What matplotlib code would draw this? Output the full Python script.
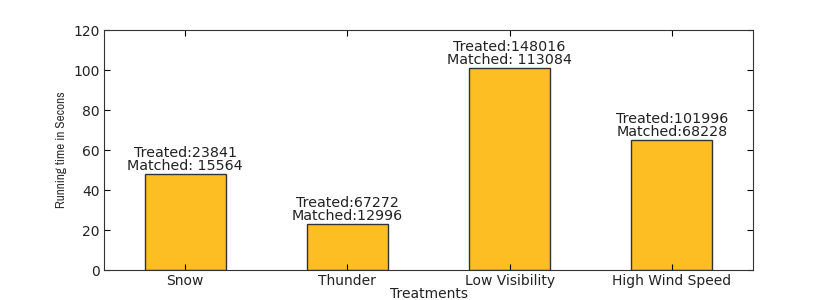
import matplotlib
matplotlib.use("Agg")
import matplotlib.pyplot as plt

categories = ["Snow", "Thunder", "Low Visibility", "High Wind Speed"]
running_time = [48, 23, 101, 65]
treated = [23841, 67272, 148016, 101996]
matched = ["Matched: 15564", "Matched:12996", "Matched: 113084", "Matched:68228"]

fig = plt.figure(figsize=(8.3, 3.0), dpi=100)
ax = fig.add_axes([104/830, 30/300, (753-104)/830, 240/300])
x = list(range(len(categories)))
ax.bar(x, running_time, width=0.5, color="#FDBE24", edgecolor="#333333", linewidth=1.0)
ax.set_xlim(-0.5, 3.5)
ax.set_ylim(0, 120)
ax.set_xticks(x)
ax.set_xticklabels(categories, family="DejaVu Sans")
ax.set_yticks(range(0, 121, 20))
ax.tick_params(axis="both", direction="in", top=True, right=True, labelsize=10, length=4,
               pad=3, labelcolor="#222222")
for lab in ax.get_yticklabels():
    lab.set_family("DejaVu Sans")
for i, (h, t, m) in enumerate(zip(running_time, treated, matched)):
    ax.annotate(f"Treated:{t}\n{m}", (i, h), xytext=(0, 0.5), textcoords="offset points",
                ha="center", va="bottom", fontsize=10.3, linespacing=0.9, color="#222222",
                family="DejaVu Sans")
ax.set_xlabel("Treatments", fontsize=10, labelpad=-1, color="#222222", family="DejaVu Sans")
ax.set_ylabel("Running time in Secons", fontsize=9.6, fontweight="light",
              family=["Archivo Narrow", "DejaVu Sans"], labelpad=5, color="#333333")
for s in ax.spines.values():
    s.set_color("#333333")
fig.savefig("out.png", dpi=100)
